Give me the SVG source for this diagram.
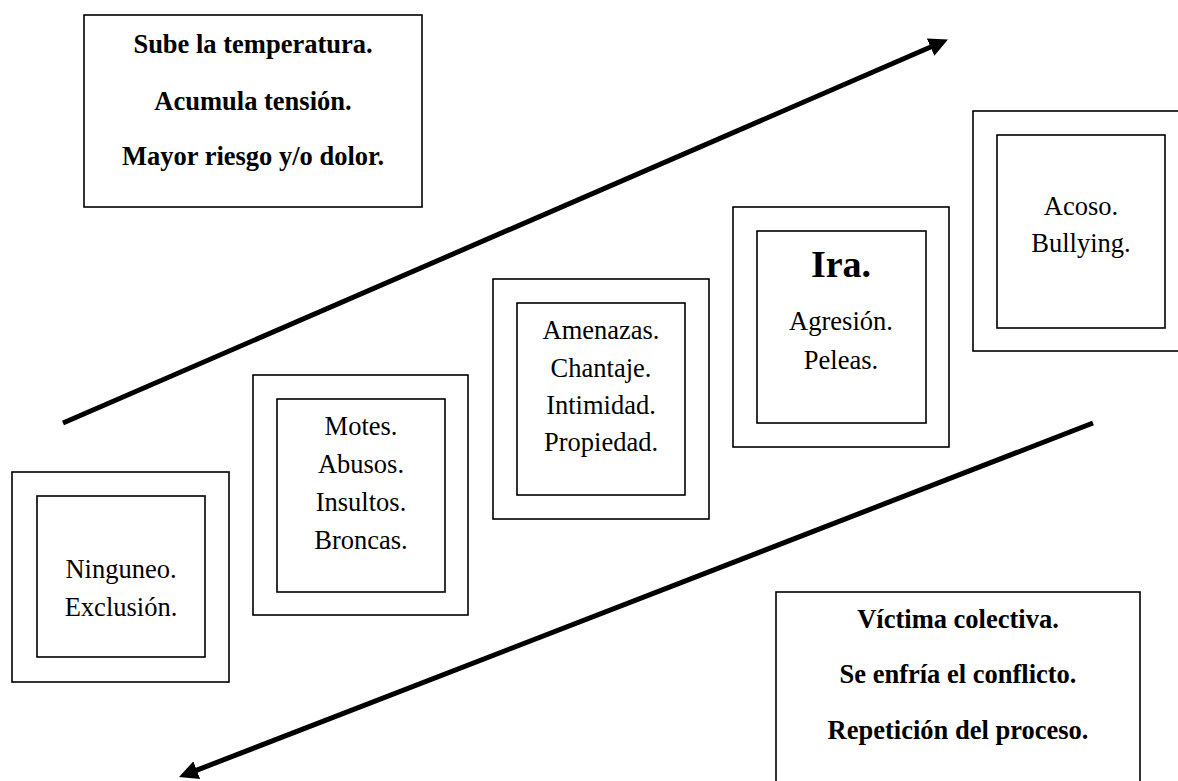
<svg xmlns="http://www.w3.org/2000/svg" width="1178" height="781" viewBox="0 0 1178 781">
<style>
  .box { fill: #fff; stroke: #000; stroke-width: 1.6; }
  .t { font-family: "Liberation Serif", "Times New Roman", serif; font-size: 26.5px; fill: #000; text-anchor: middle; }
  .b { font-weight: bold; }
  .big { font-size: 38px; font-weight: bold; }
  .arrow { stroke: #000; stroke-width: 5; fill: none; marker-end: url(#head); }
</style>
<defs>
  <marker id="head" markerUnits="userSpaceOnUse" markerWidth="24" markerHeight="24" viewBox="0 -12 24 24" refX="2" refY="0" orient="auto">
    <path d="M0,-9.5 L19,0 L0,9.5 Z" fill="#000"/>
  </marker>
</defs>
<rect width="1178" height="781" fill="#fff"/>

<g id="box-top">
  <rect class="box" x="84" y="15" width="338" height="192"/>
  <text class="t b" x="253" y="53">Sube la temperatura.</text>
  <text class="t b" x="253" y="110">Acumula tensión.</text>
  <text class="t b" x="253" y="165">Mayor riesgo y/o dolor.</text>
</g>

<g id="box-bottom">
  <rect class="box" x="776" y="592" width="364" height="200"/>
  <text class="t b" x="958" y="628">Víctima colectiva.</text>
  <text class="t b" x="958" y="683">Se enfría el conflicto.</text>
  <text class="t b" x="958" y="739">Repetición del proceso.</text>
</g>

<g id="step1">
  <rect class="box" x="12" y="472" width="217" height="210"/>
  <rect class="box" x="37" y="496" width="168" height="161"/>
  <text class="t" x="121" y="578">Ninguneo.</text>
  <text class="t" x="121" y="616">Exclusión.</text>
</g>

<g id="step2">
  <rect class="box" x="253" y="375" width="215" height="240"/>
  <rect class="box" x="277" y="399" width="168" height="193"/>
  <text class="t" x="361" y="435">Motes.</text>
  <text class="t" x="361" y="473">Abusos.</text>
  <text class="t" x="361" y="511">Insultos.</text>
  <text class="t" x="361" y="548.5">Broncas.</text>
</g>

<g id="step3">
  <rect class="box" x="493" y="279" width="216" height="240"/>
  <rect class="box" x="517" y="303" width="168" height="192"/>
  <text class="t" x="601" y="339">Amenazas.</text>
  <text class="t" x="601" y="377">Chantaje.</text>
  <text class="t" x="601" y="414">Intimidad.</text>
  <text class="t" x="601" y="451">Propiedad.</text>
</g>

<g id="step4">
  <rect class="box" x="733" y="207" width="216" height="240"/>
  <rect class="box" x="757" y="231" width="169" height="192"/>
  <text class="t big" x="841" y="277">Ira.</text>
  <text class="t" x="841" y="330">Agresión.</text>
  <text class="t" x="841" y="369">Peleas.</text>
</g>

<g id="step5">
  <rect class="box" x="973" y="111" width="216" height="240"/>
  <rect class="box" x="997" y="135" width="168" height="193"/>
  <text class="t" x="1081" y="215">Acoso.</text>
  <text class="t" x="1081" y="252">Bullying.</text>
</g>

<g id="connectors">
  <line class="arrow" x1="63" y1="423" x2="932.4" y2="46.3"/>
  <line class="arrow" x1="1093" y1="423" x2="194.9" y2="770.9"/>
</g>
</svg>
